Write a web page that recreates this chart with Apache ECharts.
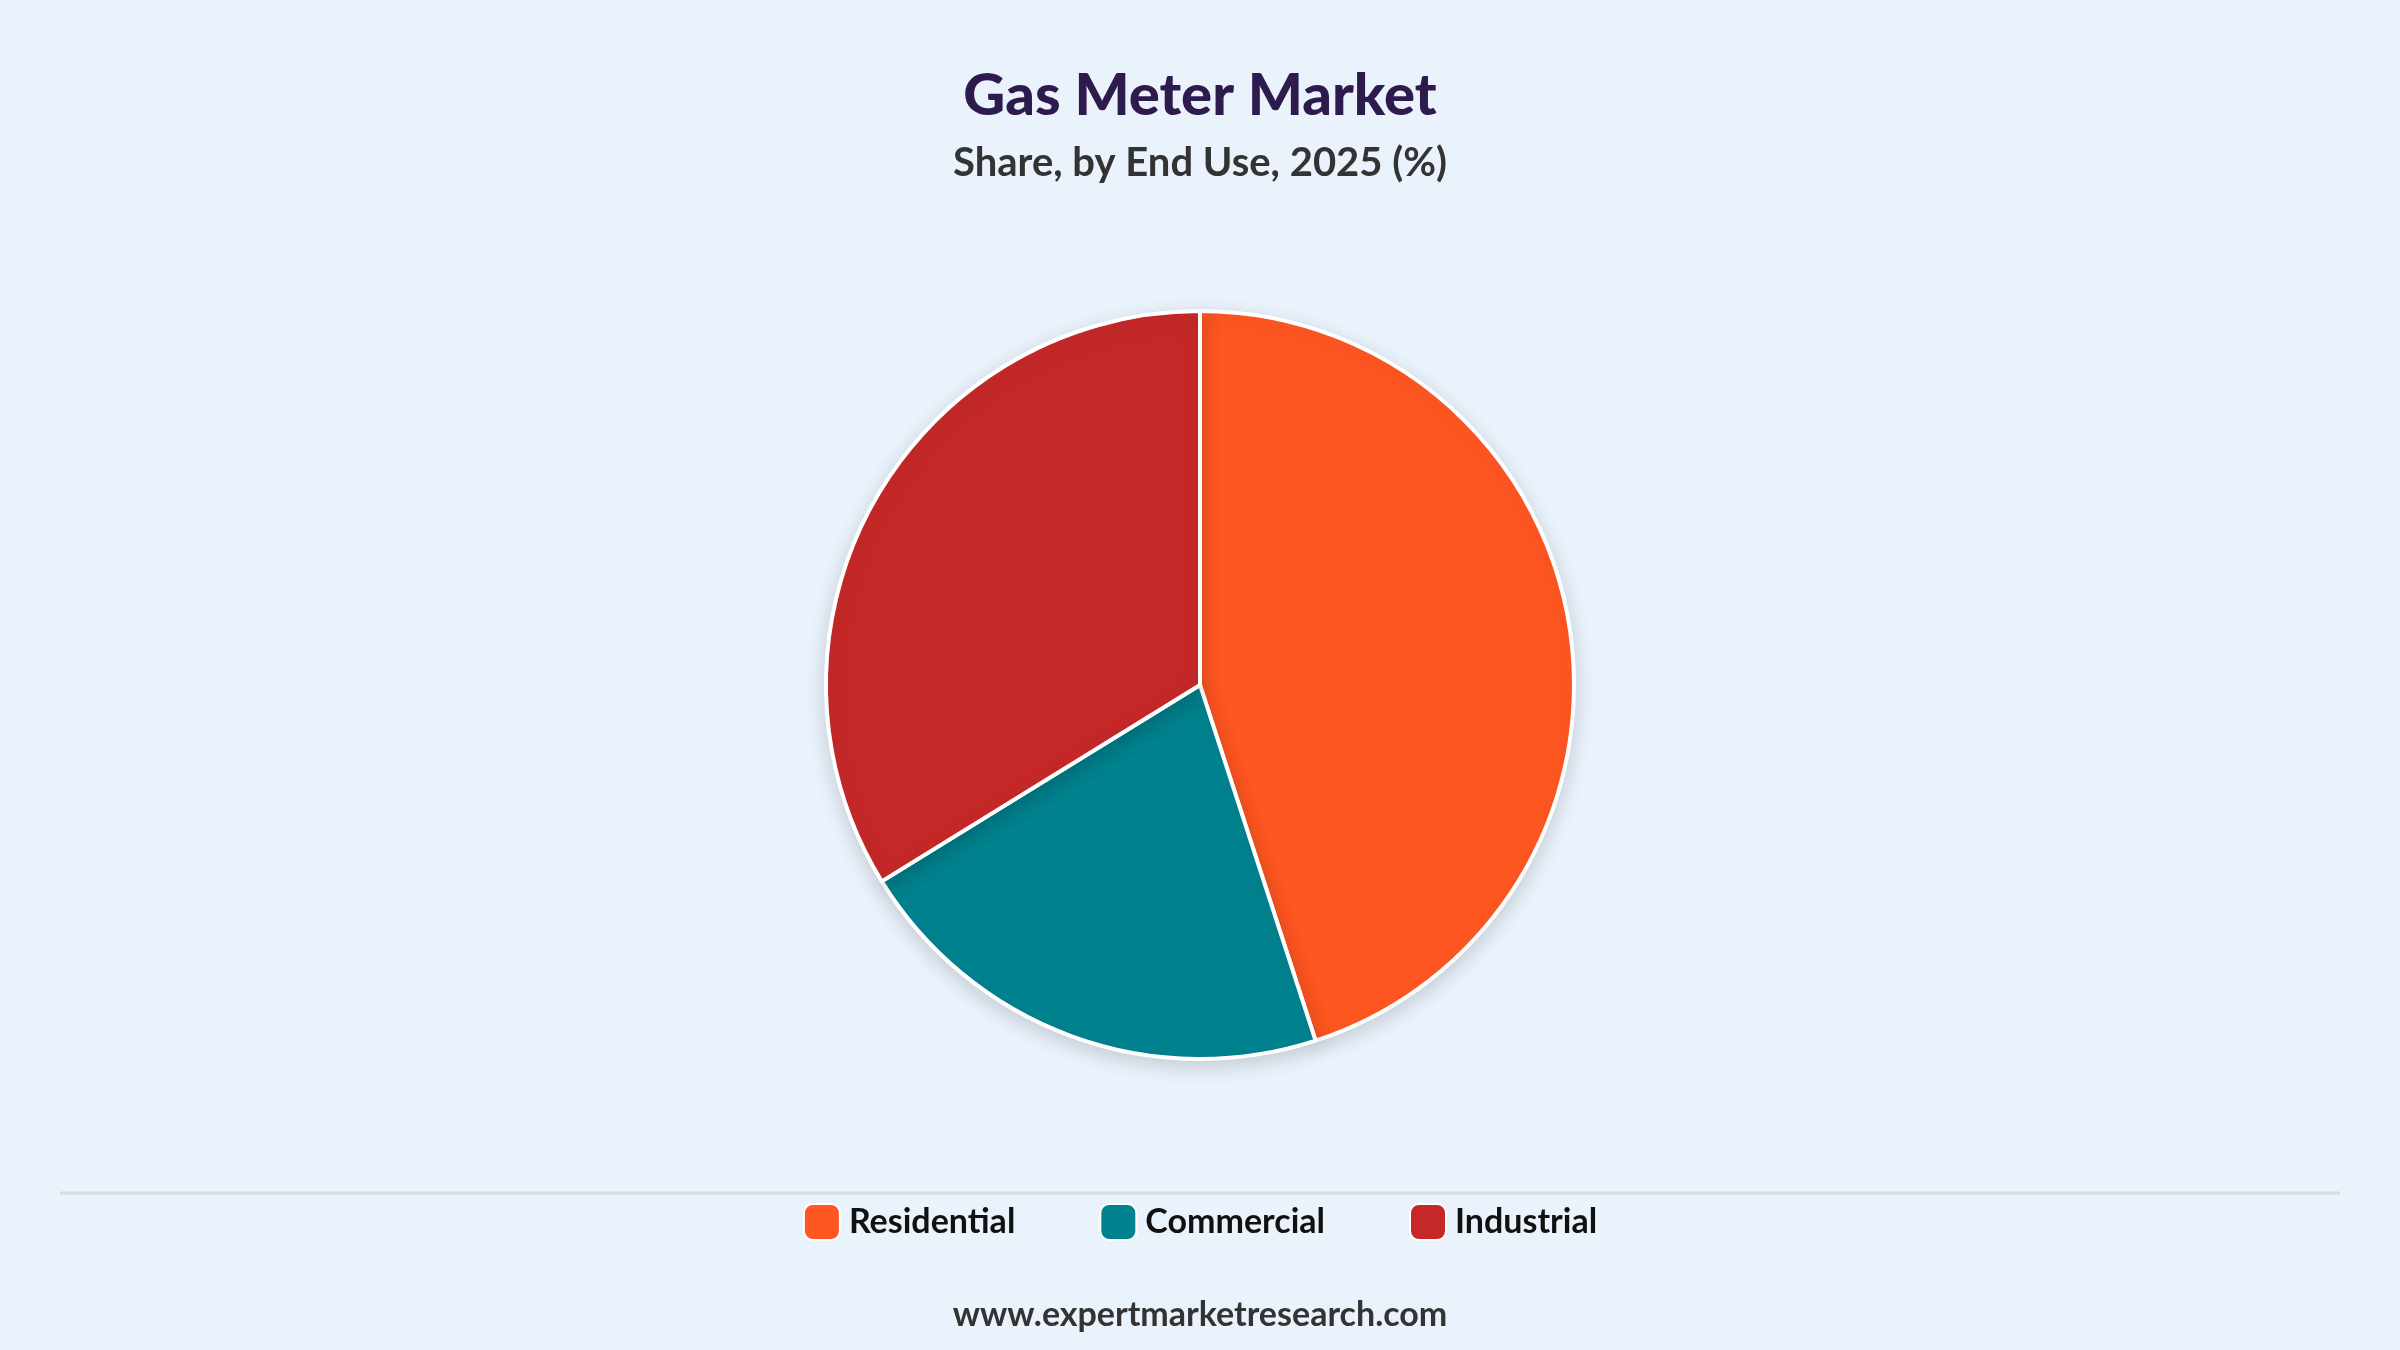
<!DOCTYPE html>
<html><head><meta charset="utf-8">
<script src="https://cdn.jsdelivr.net/npm/echarts@6/dist/echarts.min.js"></script>
<style>html,body{margin:0;padding:0;background:#eaf2fb}#c{width:2400px;height:1350px}</style>
</head><body><div id="c"></div>
<script>
const categories = ["Residential", "Commercial", "Industrial"];
const shares = [45, 21.2, 33.8];
const colors = ["#ff5722", "#00838f", "#c62828"];

const chart = echarts.init(document.getElementById('c'));
chart.setOption({
  backgroundColor: '#eaf2fb',
  title: {
    text: 'Gas Meter Market',
    subtext: 'Share, by End Use, 2025 (%)',
    left: 'center', top: 62, itemGap: 18,
    textStyle: {fontFamily: 'Lato', fontWeight: 900, fontSize: 58, color: '#2d1b4e'},
    subtextStyle: {fontFamily: 'Lato', fontWeight: 'bold', fontSize: 40, color: '#333'}
  },
  legend: {
    bottom: 104, left: 'center', itemWidth: 36, itemHeight: 36, itemGap: 84,
    icon: 'roundRect',
    textStyle: {fontFamily: 'Lato', fontWeight: 'bold', fontSize: 34, color: '#111', padding: [0,0,0,4]},
    data: categories
  },
  graphic: [
    {type: 'line', shape: {x1: 60, y1: 1193, x2: 2340, y2: 1193}, style: {stroke: '#d6d9dd', lineWidth: 3}},
    {type: 'text', left: 'center', top: 1298, style: {text: 'www.expertmarketresearch.com', fontFamily: 'Lato', fontWeight: 'bold', fontSize: 34, fill: '#333'}}
  ],
  series: [{
    type: 'pie', center: [1200, 685], radius: 374, startAngle: 90, clockwise: true,
    label: {show: false}, labelLine: {show: false},
    itemStyle: {borderColor: '#fff', borderWidth: 4, shadowBlur: 20, shadowColor: 'rgba(0,0,0,0.15)', shadowOffsetY: 6},
    data: categories.map((n, i) => ({name: n, value: shares[i], itemStyle: {color: colors[i]}}))
  }]
});
</script></body></html>
